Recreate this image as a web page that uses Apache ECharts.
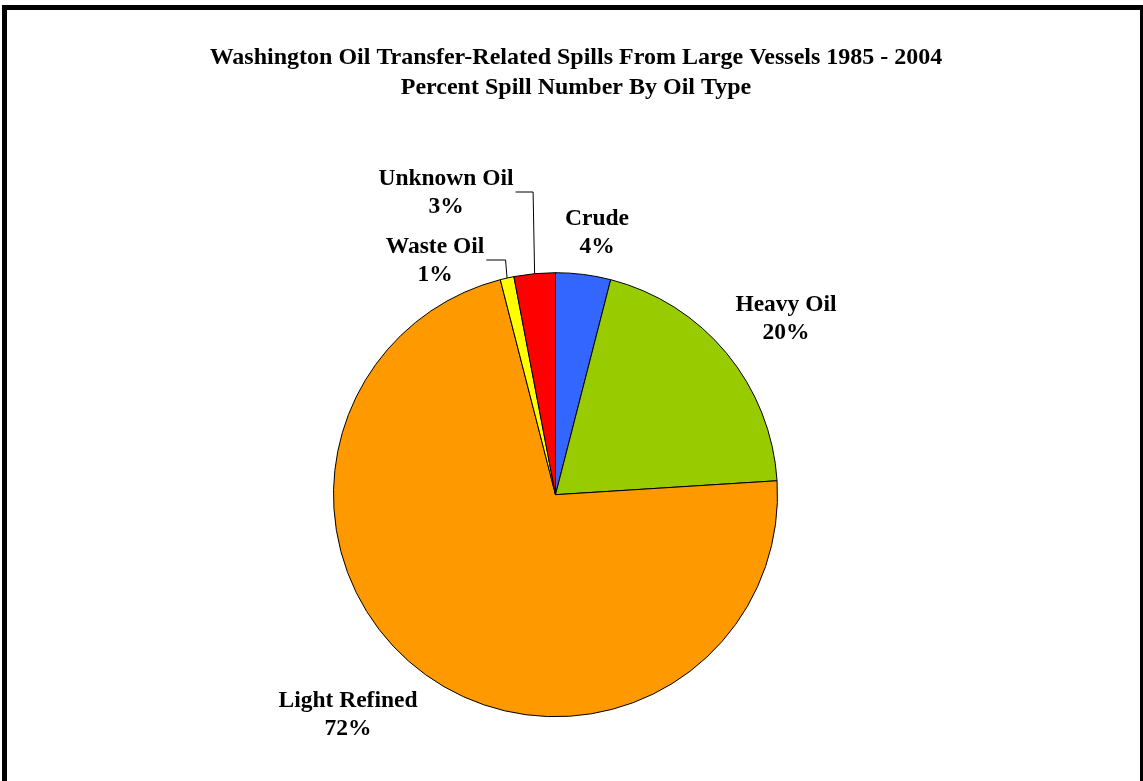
<!DOCTYPE html>
<html>
<head>
<meta charset="utf-8">
<title>Washington Oil Transfer-Related Spills</title>
<script src="https://cdn.jsdelivr.net/npm/echarts@6/dist/echarts.min.js"></script>
<style>
  html, body { margin: 0; padding: 0; background: #ffffff; }
  #chart { width: 1143px; height: 781px; }
</style>
</head>
<body>
<div id="chart"></div>
<script>
// Spill share by oil type, clockwise from 12 o'clock
const oilTypes = ['Crude', 'Heavy Oil', 'Light Refined', 'Waste Oil', 'Unknown Oil'];
const percentShares = [4, 20, 72, 1, 3];
const sliceColors = ['#3366FF', '#99CC00', '#FF9900', '#FFFF00', '#FF0000'];
const titleLines = [
  'Washington Oil Transfer-Related Spills From Large Vessels 1985 - 2004',
  'Percent Spill Number By Oil Type'
];

// Where each label block sits (centre of the two-line block) and whether it gets a leader line
const labelPlacement = {
  'Crude':         { x: 597, y: 233, leader: false },
  'Heavy Oil':     { x: 786, y: 319, leader: false },
  'Light Refined': { x: 348, y: 715, leader: false },
  'Waste Oil':     { x: 435, y: 261, leader: true },
  'Unknown Oil':   { x: 446, y: 193, leader: true }
};

const serif = '"Liberation Serif", "Times New Roman", serif';
const chart = echarts.init(document.getElementById('chart'), null, { renderer: 'canvas' });

const pieData = oilTypes.map((name, i) => ({
  name: name,
  value: percentShares[i],
  itemStyle: { color: sliceColors[i] },
  labelLine: { show: labelPlacement[name].leader }
}));

chart.setOption({
  animation: false,
  backgroundColor: '#ffffff',
  graphic: [{
    // outer frame
    type: 'rect',
    silent: true,
    shape: { x: 4.5, y: 7.5, width: 1138, height: 800 },
    style: { fill: 'none', stroke: '#000000', lineWidth: 5 }
  }, {
    // two-line heading, centred over the plot
    type: 'text',
    silent: true,
    x: 576,
    y: 73,
    style: {
      text: titleLines.join('\n'),
      fontFamily: serif,
      fontWeight: 'bold',
      fontSize: 24,
      lineHeight: 30,
      fill: '#000000',
      align: 'center',
      verticalAlign: 'middle'
    }
  }],
  series: [{
    type: 'pie',
    center: [555.5, 494.7],
    radius: [0, 222],
    startAngle: 90,
    clockwise: true,
    avoidLabelOverlap: false,
    emphasis: { disabled: true },
    itemStyle: { borderColor: '#000000', borderWidth: 1 },
    label: {
      show: true,
      position: 'outside',
      formatter: '{b}\n{c}%',
      fontFamily: serif,
      fontWeight: 'bold',
      fontSize: 23.5,
      lineHeight: 28,
      color: '#000000',
      align: 'center'
    },
    labelLine: {
      show: true,
      length: 10,
      length2: 10,
      lineStyle: { color: '#000000', width: 1 }
    },
    labelLayout: function (params) {
      const name = oilTypes[params.dataIndex];
      const place = labelPlacement[name];
      const out = {
        x: place.x,
        y: place.y,
        align: 'center',
        verticalAlign: 'middle'
      };
      if (place.leader && params.labelLinePoints) {
        const edge = params.labelLinePoints[0];
        const rightEdge = place.x + params.labelRect.width / 2 + 2;
        const lineY = place.y - 1;
        out.labelLinePoints = [
          [edge[0], edge[1]],
          [edge[0] - 1.5, lineY],
          [rightEdge, lineY]
        ];
      }
      return out;
    },
    data: pieData
  }]
});
</script>
</body>
</html>
